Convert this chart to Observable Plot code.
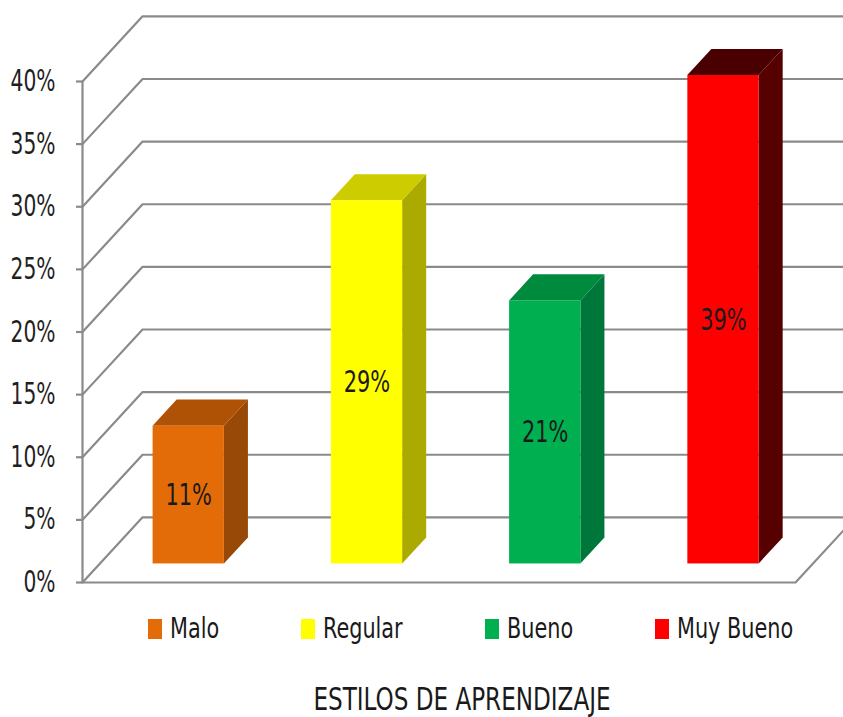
<!DOCTYPE html>
<html>
<head>
<meta charset="utf-8">
<script src="https://cdn.jsdelivr.net/npm/d3@7"></script>
<script src="https://cdn.jsdelivr.net/npm/@observablehq/plot@0.6"></script>
<style>
  html, body { margin: 0; padding: 0; background: #fff; }
  body { width: 843px; height: 717px; position: relative; overflow: hidden;
         font-family: "Liberation Sans Narrow", "Arial Narrow", "DejaVu Sans Condensed", sans-serif; color: #1a1a1a; }
  #chart { position: absolute; left: 0; top: 0; }
  #legend { position: absolute; left: 148px; top: 615px; height: 27.5px; display: flex; align-items: center; gap: 82px; }
  .item { display: flex; align-items: center; font-size: 27.5px; line-height: 27.5px; white-space: nowrap; }
  .sw { width: 14px; height: 20px; margin-right: 8px; flex: none; }
  .lt { display: inline-block; transform-origin: 0 50%; }
  #title { position: absolute; left: 462px; top: 684px; font-size: 31.5px; line-height: 31.5px; white-space: nowrap; }
</style>
</head>
<body>
<div id="chart"></div>
<div id="legend"></div>
<div id="title"></div>
<script>
// ---- data ----
const categories = ["Malo", "Regular", "Bueno", "Muy Bueno"];
const values = [11, 29, 21, 39];
const yTicks = [0, 5, 10, 15, 20, 25, 30, 35, 40];
const frontColors = ["#E36C09", "#FFFF00", "#00B050", "#FF0000"];
const topColors = ["#B05206", "#CCCC00", "#008A3E", "#4A0000"];
const sideColors = ["#984807", "#AAAA00", "#00773A", "#560000"];
const title = "ESTILOS DE APRENDIZAJE";

// ---- 3D geometry (in data units: x in category slots, y in %) ----
const DX = 0.337, DY = 5.2;      // full depth of the floor/wall
const F0 = 0.285, F1 = 0.685;    // bar front / back depth fractions
const BL = 0.3, BR = 0.7;        // bar left/right within slot

const bars = categories.map((c, i) => ({
  c, i, v: values[i],
  xl: i + BL, xr: i + BR,
  front: frontColors[i], top: topColors[i], side: sideColors[i]
}));

const grid = yTicks.flatMap(t => [
  {x: 0, y: t, z: t},
  {x: DX, y: t + DY, z: t},
  {x: 5, y: t + DY, z: t}
]);
const floor = [{x: 0, y: 0}, {x: 4, y: 0}, {x: 4 + DX, y: DY}];

const sides = bars.flatMap(b => [
  {x: b.xr + F0 * DX, y1: F0 * DY, y2: b.v + F0 * DY, z: b.c, fill: b.side},
  {x: b.xr + F1 * DX, y1: F1 * DY, y2: b.v + F1 * DY, z: b.c, fill: b.side}
]);
const tops = bars.flatMap(b => [
  {y: b.v + F0 * DY, x1: b.xl + F0 * DX, x2: b.xr + F0 * DX, z: b.c, fill: b.top},
  {y: b.v + F1 * DY, x1: b.xl + F1 * DX, x2: b.xr + F1 * DX, z: b.c, fill: b.top}
]);

const font = "'Liberation Sans Narrow', 'Arial Narrow', 'DejaVu Sans Condensed', sans-serif";
const gray = "#8a8a8a";

const plot = Plot.plot({
  width: 843,
  height: 600,
  marginLeft: 82,
  marginRight: 48,
  marginTop: 81,
  marginBottom: 18,
  style: {fontFamily: font, background: "transparent", overflow: "hidden"},
  x: {type: "linear", domain: [0, 4], axis: null},
  y: {type: "linear", domain: [0, 40]},
  marks: [
    Plot.line(grid, {x: "x", y: "y", z: "z", stroke: gray, strokeWidth: 2.2}),
    Plot.line(floor, {x: "x", y: "y", stroke: gray, strokeWidth: 2.2}),
    Plot.ruleX([0], {y1: 0, y2: 40, stroke: gray, strokeWidth: 2.2}),
    Plot.axisY({
      ticks: yTicks, tickFormat: d => d + "%", tickSize: 6, tickPadding: 21,
      stroke: gray, strokeWidth: 2.2, fill: "#1f1f1f", fontSize: 30, label: null
    }),
    Plot.areaY(sides, {x: "x", y1: "y1", y2: "y2", z: "z", fill: "fill"}),
    Plot.areaX(tops, {y: "y", x1: "x1", x2: "x2", z: "z", fill: "fill"}),
    Plot.rect(bars, {
      x1: d => d.xl + F0 * DX, x2: d => d.xr + F0 * DX,
      y1: F0 * DY, y2: d => d.v + F0 * DY, fill: "front"
    }),
    Plot.text(bars, {
      x: d => (d.xl + d.xr) / 2 + F0 * DX, y: d => d.v / 2 + F0 * DY,
      text: d => d.v + "%", fontSize: 31, fill: "#1a1a1a"
    })
  ]
});
document.getElementById("chart").appendChild(plot);

// condense SVG text horizontally (reference uses a narrow font)
const K_SVG = 0.75;
plot.querySelectorAll("text").forEach(t => {
  const w = t.getComputedTextLength();
  if (w > 0) {
    t.setAttribute("textLength", (w * K_SVG).toFixed(2));
    t.setAttribute("lengthAdjust", "spacingAndGlyphs");
  }
});

// legend
const K_LEG = 0.84;
const legend = document.getElementById("legend");
categories.forEach((c, i) => {
  const it = document.createElement("div");
  it.className = "item";
  const sw = document.createElement("span");
  sw.className = "sw";
  sw.style.background = frontColors[i];
  const tx = document.createElement("span");
  tx.className = "lt";
  tx.textContent = c;
  it.appendChild(sw); it.appendChild(tx);
  legend.appendChild(it);
  const w = tx.getBoundingClientRect().width;
  tx.style.transform = `scaleX(${K_LEG})`;
  tx.style.marginRight = `${-(1 - K_LEG) * w}px`;
});

// title
const K_TIT = 0.815;
const tEl = document.getElementById("title");
tEl.textContent = title;
tEl.style.transform = `translateX(-50%) scaleX(${K_TIT})`;
</script>
</body>
</html>
